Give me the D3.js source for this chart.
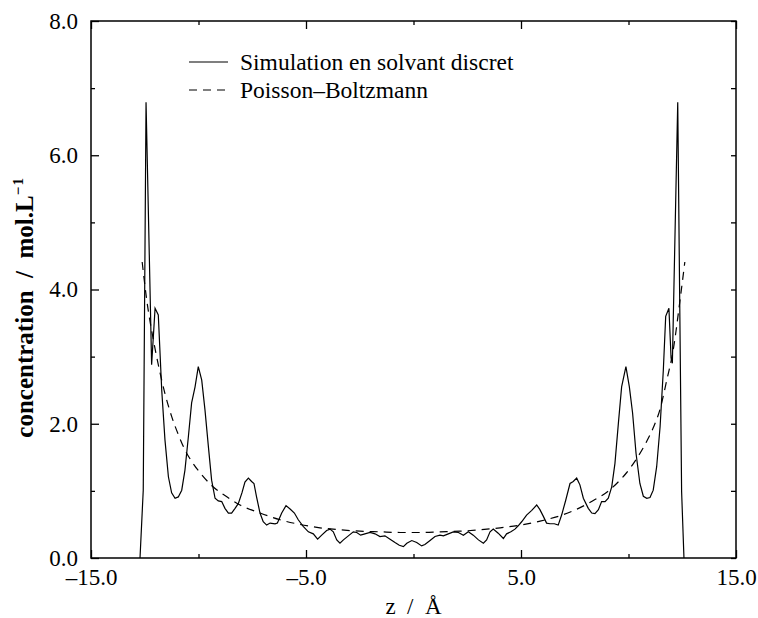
<!DOCTYPE html>
<html>
<head>
<meta charset="utf-8">
<script src="https://d3js.org/d3.v7.min.js"></script>
<style>
  body { margin: 0; background: #fff; }
  text { font-family: "Liberation Serif", "DejaVu Serif", serif; fill: #000; }
  .tick text { font-size: 23px; font-family: "Liberation Serif", "DejaVu Serif", serif; }
  .legend { font-size: 23.5px; }
  .xlabel { font-size: 23px; }
  .ylabel { font-size: 25px; font-weight: bold; }
</style>
</head>
<body>
<script>
// simulation (solid line): z in Angstrom, concentration in mol/L
var simZ = [-12.72, -12.57, -12.44, -12.18, -12.02, -11.87, -11.71, -11.56, -11.40, -11.25,
  -11.09, -10.94, -10.78, -10.63, -10.47, -10.32, -10.16, -10.01, -9.85, -9.70,
  -9.54, -9.39, -9.23, -9.08, -8.92, -8.77, -8.61, -8.46, -8.30, -8.15,
  -7.98, -7.84, -7.68, -7.53, -7.42, -7.30, -7.14, -6.99, -6.83, -6.67,
  -6.44, -6.33, -6.13, -5.93, -5.74, -5.54, -5.36, -5.13, -4.89, -4.66,
  -4.46, -4.27, -4.04, -3.88, -3.73, -3.57, -3.42, -3.26, -3.03, -2.80,
  -2.64, -2.46, -2.26, -2.02, -1.79, -1.56, -1.33, -1.09, -0.86, -0.66,
  -0.47, -0.31, -0.08, 0.15, 0.38, 0.53, 0.77, 1.00, 1.23, 1.39,
  1.62, 1.85, 2.09, 2.32, 2.55, 2.78, 3.02, 3.25, 3.40, 3.56,
  3.71, 3.94, 4.18, 4.33, 4.53, 4.72, 4.87, 5.03, 5.26, 5.50,
  5.73, 5.88, 6.04, 6.19, 6.35, 6.55, 6.73, 6.89, 7.08, 7.28,
  7.43, 7.59, 7.74, 7.90, 8.13, 8.29, 8.44, 8.60, 8.75, 8.91,
  9.06, 9.22, 9.37, 9.53, 9.68, 9.88, 10.04, 10.19, 10.35, 10.53,
  10.69, 10.85, 11.00, 11.15, 11.31, 11.47, 11.62, 11.73, 11.88, 11.98,
  12.04, 12.29, 12.47, 12.58];
var simC = [0.00, 1.01, 6.79, 2.88, 3.72, 3.62, 2.50, 1.76, 1.21, 0.97,
  0.89, 0.91, 1.01, 1.31, 1.81, 2.31, 2.55, 2.85, 2.65, 2.21,
  1.66, 1.16, 0.89, 0.85, 0.84, 0.74, 0.67, 0.67, 0.74, 0.81,
  0.97, 1.13, 1.19, 1.14, 1.11, 0.91, 0.67, 0.54, 0.49, 0.52,
  0.51, 0.52, 0.67, 0.78, 0.73, 0.67, 0.57, 0.47, 0.39, 0.36,
  0.28, 0.34, 0.41, 0.43, 0.39, 0.27, 0.22, 0.27, 0.33, 0.39,
  0.38, 0.34, 0.36, 0.38, 0.36, 0.32, 0.33, 0.28, 0.23, 0.19,
  0.17, 0.22, 0.26, 0.23, 0.18, 0.20, 0.26, 0.32, 0.34, 0.33,
  0.36, 0.39, 0.38, 0.34, 0.39, 0.34, 0.27, 0.22, 0.27, 0.39,
  0.43, 0.37, 0.29, 0.36, 0.39, 0.43, 0.48, 0.54, 0.64, 0.71,
  0.79, 0.72, 0.62, 0.52, 0.51, 0.51, 0.49, 0.64, 0.86, 1.11,
  1.14, 1.19, 1.09, 0.89, 0.74, 0.67, 0.66, 0.72, 0.84, 0.84,
  0.89, 1.06, 1.41, 2.01, 2.55, 2.85, 2.55, 2.16, 1.56, 1.11,
  0.92, 0.89, 0.90, 1.01, 1.36, 1.96, 2.80, 3.60, 3.72, 2.98,
  2.90, 6.79, 0.99, 0.00];

// Poisson-Boltzmann (dashed line)
var pbZ = [-12.62, -12.41, -12.10, -11.87, -11.56, -11.25, -10.94, -10.63, -10.32, -9.85,
  -9.39, -8.77, -8.07, -7.14, -6.21, -5.28, -4.35, -3.42, -2.49, -1.56,
  -0.62, 0.30, 1.24, 2.17, 3.10, 4.03, 4.96, 5.89, 6.82, 7.75,
  8.44, 8.99, 9.45, 9.91, 10.38, 10.85, 11.15, 11.47, 11.78, 12.08,
  12.40, 12.62];
var pbC = [4.41, 3.85, 3.25, 2.88, 2.45, 2.11, 1.84, 1.61, 1.44, 1.24,
  1.08, 0.93, 0.79, 0.67, 0.57, 0.50, 0.45, 0.42, 0.40, 0.39,
  0.38, 0.38, 0.39, 0.40, 0.42, 0.45, 0.49, 0.55, 0.63, 0.75,
  0.87, 0.98, 1.11, 1.27, 1.48, 1.74, 1.94, 2.22, 2.65, 3.10,
  3.85, 4.41];

var xTicks = [-15, -5, 5, 15];
var xMinor = [-10, 0, 10];
var yTicks = [0, 2, 4, 6, 8];
var yMinor = [1, 3, 5, 7];
var legendLabels = ["Simulation en solvant discret", "Poisson\u2013Boltzmann"];

var width = 758, height = 618;
var margin = {top: 21, right: 22, bottom: 60, left: 91};

var svg = d3.select("body").append("svg")
  .attr("width", width)
  .attr("height", height);

var x = d3.scaleLinear().domain([-15, 15]).range([margin.left, width - margin.right]);
var y = d3.scaleLinear().domain([0, 8]).range([height - margin.bottom, margin.top]);

var fmt = function(d) { return d3.format(".1f")(d).replace("\u2212", "\u2013"); };

// axes, ticks pointing inward
function drawAxis(axis, tx, ty) {
  var g = svg.append("g")
    .attr("transform", "translate(" + [tx, ty] + ")")
    .call(axis)
    .attr("font-family", "Liberation Serif, serif")
    .attr("font-size", 23);
  g.select(".domain").remove();
  g.selectAll(".tick line").attr("stroke", "#000").attr("stroke-width", 1.3);
  return g;
}
var bottomY = y(0), topY = y(8), leftX = x(-15), rightX = x(15);

drawAxis(d3.axisBottom(x).tickValues(xTicks).tickSize(-8).tickPadding(11).tickFormat(fmt), 0, bottomY);
drawAxis(d3.axisBottom(x).tickValues(xMinor).tickSize(-4).tickFormat(""), 0, bottomY);
drawAxis(d3.axisTop(x).tickValues(xTicks).tickSize(-8).tickFormat(""), 0, topY);
drawAxis(d3.axisTop(x).tickValues(xMinor).tickSize(-4).tickFormat(""), 0, topY);
drawAxis(d3.axisLeft(y).tickValues(yTicks).tickSize(-8).tickPadding(13).tickFormat(fmt), leftX, 0);
drawAxis(d3.axisLeft(y).tickValues(yMinor).tickSize(-4).tickFormat(""), leftX, 0);
drawAxis(d3.axisRight(y).tickValues(yTicks.concat(yMinor)).tickSize(-5).tickFormat(""), rightX, 0);

svg.selectAll(".tick text").attr("fill", "#000");

// frame
svg.append("rect")
  .attr("x", leftX).attr("y", topY)
  .attr("width", rightX - leftX).attr("height", bottomY - topY)
  .attr("fill", "none").attr("stroke", "#000").attr("stroke-width", 1.5);

// curves
var simLine = d3.line()
  .x(function(i) { return x(simZ[i]); })
  .y(function(i) { return y(simC[i]); });
svg.append("path")
  .attr("d", simLine(d3.range(simZ.length)))
  .attr("fill", "none").attr("stroke", "#000").attr("stroke-width", 1.2);

var pbLine = d3.line()
  .curve(d3.curveMonotoneX)
  .x(function(i) { return x(pbZ[i]); })
  .y(function(i) { return y(pbC[i]); });
svg.append("path")
  .attr("d", pbLine(d3.range(pbZ.length)))
  .attr("fill", "none").attr("stroke", "#000").attr("stroke-width", 1.2)
  .attr("stroke-dasharray", "8,6");

// legend
var legend = svg.append("g").attr("transform", "translate(189,62)");
legendLabels.forEach(function(label, i) {
  var row = legend.append("g").attr("transform", "translate(0," + i * 28 + ")");
  row.append("line")
    .attr("x1", 0).attr("x2", 39).attr("y1", 0).attr("y2", 0)
    .attr("stroke", "#000").attr("stroke-width", 1.2)
    .attr("stroke-dasharray", i === 1 ? "8,6" : null);
  row.append("text").attr("class", "legend")
    .attr("x", 51).attr("y", 8).text(label);
});

// axis labels
svg.append("text").attr("class", "xlabel")
  .attr("x", (leftX + rightX) / 2).attr("y", 614)
  .attr("text-anchor", "middle")
  .text("z\u00a0\u00a0/\u00a0\u00a0\u00c5");

var yl = svg.append("text").attr("class", "ylabel")
  .attr("transform", "translate(33,178) rotate(-90)")
  .attr("text-anchor", "end");
yl.append("tspan").text("concentration\u00a0\u00a0/\u00a0\u00a0mol.L");
yl.append("tspan").attr("dy", -10).attr("font-size", 15).text("\u2212\u200a1");
</script>
</body>
</html>
